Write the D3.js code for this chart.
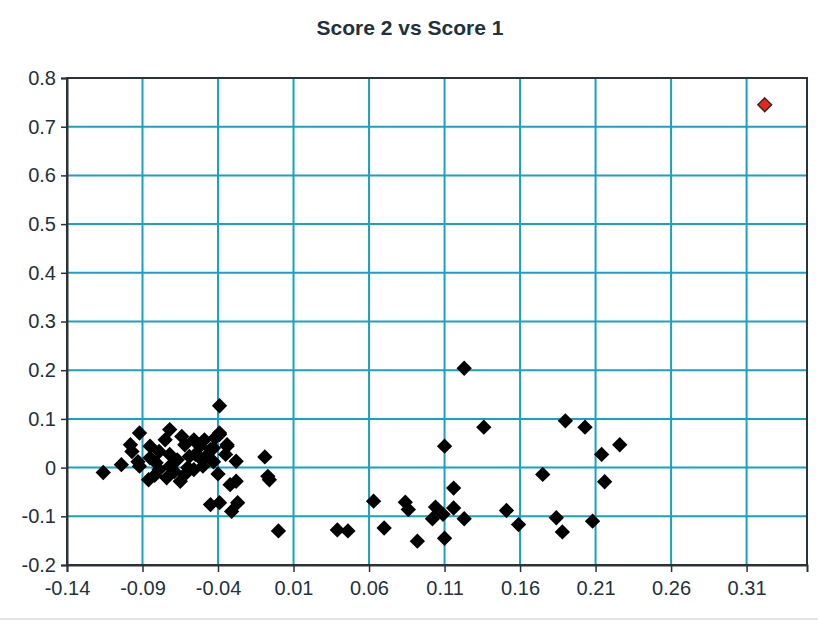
<!DOCTYPE html>
<html lang="en">
<head>
  <meta charset="utf-8">
  <title>Score 2 vs Score 1</title>
  <script src="https://d3js.org/d3.v7.min.js"></script>
  <style>
    body { margin: 0; background: #fff; }
    text { font-family: "Liberation Sans", Arial, sans-serif; fill: #22313c; }
  </style>
</head>
<body>
<script>
// x = Score 1, y = Score 2
var score1 = [
  -0.116, -0.104, -0.098, -0.092, -0.097, -0.086, -0.092, -0.072, -0.064, -0.074,
  -0.065, -0.079, -0.081, -0.085, -0.056, -0.052, -0.059, -0.067, -0.072, -0.056,
  -0.050, -0.048, -0.043, -0.039, -0.034, -0.079, -0.072, -0.062, -0.055, -0.049,
  -0.045, -0.042, -0.060, -0.069, -0.075, -0.085, -0.093, -0.082, -0.052, -0.062,
  -0.043, -0.035, -0.039, -0.009, -0.007, -0.006, 0.000, -0.028, -0.040, -0.032,
  -0.028, -0.045, -0.039, -0.031, -0.027, -0.034, -0.039,
  0.123, 0.136, 0.110, 0.190, 0.203, 0.226, 0.214, 0.175, 0.216, 0.116,
  0.063, 0.084, 0.086, 0.104, 0.116, 0.102, 0.109, 0.123, 0.151, 0.159,
  0.184, 0.188, 0.208, 0.039, 0.046, 0.070, 0.092, 0.110
];
var score2 = [
  -0.010, 0.006, 0.047, 0.071, 0.033, -0.025, 0.003, 0.078, 0.064, -0.021,
  -0.028, 0.033, 0.010, 0.044, 0.057, 0.044, 0.023, 0.016, 0.003, -0.004,
  0.003, 0.023, 0.040, 0.068, 0.044, -0.004, 0.027, 0.047, 0.027, 0.057,
  0.037, 0.061, 0.000, -0.008, 0.057, 0.020, 0.012, -0.016, 0.020, -0.014,
  0.012, 0.027, 0.127, 0.022, -0.018, -0.025, -0.130, 0.013, -0.013, -0.035,
  -0.028, -0.076, -0.072, -0.090, -0.072, 0.047, 0.071,
  0.204, 0.083, 0.044, 0.096, 0.083, 0.047, 0.027, -0.014, -0.029, -0.042,
  -0.069, -0.071, -0.086, -0.081, -0.083, -0.105, -0.096, -0.105, -0.088, -0.117,
  -0.103, -0.132, -0.110, -0.128, -0.130, -0.124, -0.151, -0.145
];
// highlighted point
var outlierX = [0.322];
var outlierY = [0.745];

var xTicks = [-0.14, -0.09, -0.04, 0.01, 0.06, 0.11, 0.16, 0.21, 0.26, 0.31];
var yTicks = [-0.2, -0.1, 0, 0.1, 0.2, 0.3, 0.4, 0.5, 0.6, 0.7, 0.8];

var W = 818, H = 623;
var pLeft = 67, pRight = 807, pTop = 78, pBottom = 565;
var fontStack = "'Liberation Sans', Arial, sans-serif";

var svg = d3.select("body").append("svg")
  .attr("width", W)
  .attr("height", H);

var x = d3.scaleLinear().domain([-0.14, 0.35]).range([pLeft, pRight]);
var y = d3.scaleLinear().domain([-0.2, 0.8]).range([pBottom, pTop]);

// title
svg.append("text")
  .attr("x", 410)
  .attr("y", 35)
  .attr("text-anchor", "middle")
  .attr("font-size", 21)
  .attr("font-weight", "bold")
  .style("font-family", fontStack)
  .text("Score 2 vs Score 1");

// grid
svg.append("g").selectAll("line")
  .data(xTicks.slice(1))
  .enter().append("line")
  .attr("x1", function(d) { return x(d); })
  .attr("x2", function(d) { return x(d); })
  .attr("y1", pTop)
  .attr("y2", pBottom)
  .attr("stroke", "#1aa0c4")
  .attr("stroke-width", 2);

svg.append("g").selectAll("line")
  .data(yTicks.slice(1, -1))
  .enter().append("line")
  .attr("x1", pLeft)
  .attr("x2", pRight)
  .attr("y1", function(d) { return y(d); })
  .attr("y2", function(d) { return y(d); })
  .attr("stroke", "#1aa0c4")
  .attr("stroke-width", 2);

// frame
svg.append("rect")
  .attr("x", pLeft)
  .attr("y", pTop)
  .attr("width", pRight - pLeft)
  .attr("height", pBottom - pTop)
  .attr("fill", "none")
  .attr("stroke", "#2b3338")
  .attr("stroke-width", 2);

// axes
var xAxis = d3.axisBottom(x).tickValues(xTicks).tickSize(7).tickPadding(9)
  .tickFormat(function(d) { return String(+d.toFixed(2)); });
var yAxis = d3.axisLeft(y).tickValues(yTicks).tickSize(6).tickPadding(5)
  .tickFormat(function(d) { return String(+d.toFixed(1)); });

var gx = svg.append("g").attr("transform", "translate(0," + pBottom + ")").call(xAxis);
var gy = svg.append("g").attr("transform", "translate(" + pLeft + ",0)").call(yAxis);
[gx, gy].forEach(function(g) {
  g.select(".domain").attr("stroke", "#2b3338").attr("stroke-width", 2);
  g.selectAll(".tick line").attr("stroke", "#2b3338").attr("stroke-width", 1.5);
  g.selectAll(".tick text")
    .style("font-size", "20px")
    .style("font-family", fontStack)
    .attr("fill", "#22313c");
});

// points
var pts = score1.map(function(d, i) { return [d, score2[i]]; });
var diamond = d3.symbol().type(d3.symbolDiamond2).size(150);

svg.append("g").selectAll("path")
  .data(pts)
  .enter().append("path")
  .attr("d", diamond)
  .attr("transform", function(d) { return "translate(" + x(d[0]) + "," + y(d[1]) + ")"; })
  .attr("fill", "#000");

svg.append("g").selectAll("path")
  .data(outlierX.map(function(d, i) { return [d, outlierY[i]]; }))
  .enter().append("path")
  .attr("d", d3.symbol().type(d3.symbolDiamond2).size(120))
  .attr("transform", function(d) { return "translate(" + x(d[0]) + "," + y(d[1]) + ")"; })
  .attr("fill", "#e8281c")
  .attr("stroke", "#3a2a28")
  .attr("stroke-width", 1.5);

// faint bottom rule
svg.append("line")
  .attr("x1", 0).attr("x2", W)
  .attr("y1", 619).attr("y2", 619)
  .attr("stroke", "#e6e6e6")
  .attr("stroke-width", 2);
</script>
</body>
</html>
